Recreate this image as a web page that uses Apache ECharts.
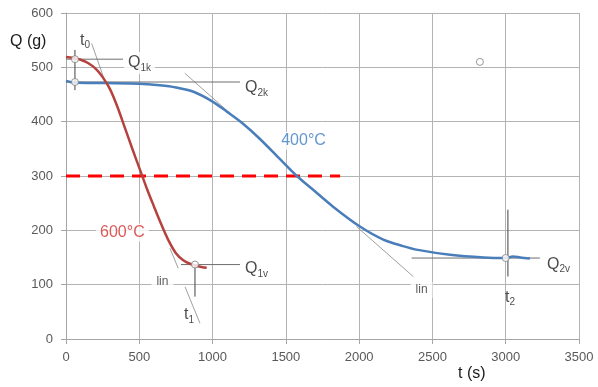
<!DOCTYPE html>
<html>
<head>
<meta charset="utf-8">
<script src="https://cdn.jsdelivr.net/npm/echarts@6/dist/echarts.min.js"></script>
<style>
  html, body { margin: 0; padding: 0; background: #fff; }
  #main { width: 598px; height: 387px; }
</style>
</head>
<body>
<div id="main"></div>
<script>
// 轴刻度
var xTicks = [0, 500, 1000, 1500, 2000, 2500, 3000, 3500];
var yTicks = [0, 100, 200, 300, 400, 500, 600];

// 600°C 曲线 (t, Q)
var curve600 = [
  [0, 519], [50, 517], [100, 514], [150, 508], [200, 498], [250, 482],
  [300, 460], [350, 428], [400, 390], [450, 352], [500, 315], [550, 278],
  [600, 244], [650, 211], [700, 181], [750, 158], [800, 145], [850, 138],
  [900, 134], [960, 131]
];
// 400°C 曲线
var curve400 = [
  [0, 475], [50, 472], [250, 471], [500, 470], [640, 467], [750, 463],
  [870, 455], [1000, 437], [1100, 418], [1200, 398], [1320, 369], [1460, 331],
  [1575, 300], [1680, 276], [1820, 244], [2000, 208], [2165, 183], [2300, 171],
  [2400, 164], [2620, 155], [2850, 150], [3000, 149], [3050, 152], [3100, 150],
  [3165, 148]
];
// 300 g 红色虚线
var limitLine = [[0, 300], [1870, 300]];

// 切线 (lin)
var tangents = [
  [[175, 544], [266, 474]],
  [[709, 167], [766, 130]],
  [[812, 96], [914, 29]],
  [[811, 489], [1096, 421]],
  [[1982, 207], [2369, 115]]
];
// 水平引线
var hLines = [
  [[0, 515], [389, 515]],
  [[0, 473], [1187, 473]],
  [[784, 137], [1187, 137]],
  [[2358, 149], [3233, 149]]
];
// 竖直标记线
var vLines = [
  [[61, 532], [61, 458]],
  [[880, 137], [880, 78]],
  [[3015, 238], [3015, 115]]
];
// 圆点
var markers = [[61, 515], [61, 473], [880, 137], [3000, 149], [2824, 510]];

// 文字标注
var qLabels = [[396, 508, 'Q', '1k'], [1194, 462, 'Q', '2k'], [1194, 129, 'Q', '1v'], [3254, 137, 'Q', '2v']];
var tLabels = [[130, 549, 't', '0'], [840, 44, 't', '1'], [3029, 77, 't', '2']];
var linLabels = [[658, 105, 'lin'], [2426, 90, 'lin']];
var blueLabel = [[1441, 365, '400°C']];
var redLabel = [[205, 196, '600°C']];

var FONT = 'Liberation Sans';
var chart = echarts.init(document.getElementById('main'));

function segSeries(segs, color, width, z) {
  return segs.map(function (s) {
    return {
      type: 'line', data: s, symbol: 'none', silent: true, z: z,
      lineStyle: { color: color, width: width }
    };
  });
}

function subFmt(p) {
  return '{m|' + p.data[2] + '}{s|' + p.data[3] + '}';
}

var richSub = {
  m: { fontSize: 16, lineHeight: 20, color: '#1a1a1a', fontFamily: FONT },
  s: { fontSize: 10, lineHeight: 10, verticalAlign: 'bottom', color: '#1a1a1a', fontFamily: FONT }
};

function labelSeries(data, align, extra) {
  return {
    type: 'scatter', data: data, symbolSize: 0, z: 7, silent: true,
    label: Object.assign({
      show: true, position: [0, 0], align: align, verticalAlign: 'middle',
      backgroundColor: '#fff', padding: [1, 4]
    }, extra)
  };
}

function plainFmt(p) { return p.data[2]; }

var series = [];
series = series.concat(segSeries(tangents, '#777', 0.7, 3));
series = series.concat(segSeries(hLines, '#6e6e6e', 1, 3));
series = series.concat(segSeries(vLines, '#404040', 1, 3));

series.push({
  type: 'line', data: limitLine, symbol: 'none', z: 4,
  lineStyle: { color: '#ff0000', width: 3, type: [14, 8] }
});
series.push({
  name: '400°C', type: 'line', data: curve400, symbol: 'none', smooth: 0.3, z: 5,
  lineStyle: { color: '#4a7ebb', width: 2.5 }
});
series.push({
  name: '600°C', type: 'line', data: curve600, symbol: 'none', smooth: 0.3, z: 5,
  lineStyle: { color: '#b5423f', width: 2.5 }
});
series.push({
  type: 'scatter', data: markers, symbol: 'circle', symbolSize: 7, z: 6,
  itemStyle: { color: '#fff', borderColor: '#808080', borderWidth: 1 }
});

series.push(labelSeries(qLabels, 'left', { formatter: subFmt, rich: richSub }));
series.push(labelSeries(tLabels, 'center', { formatter: subFmt, rich: richSub, backgroundColor: 'transparent' }));
series.push(labelSeries(linLabels, 'center', {
  formatter: plainFmt, fontSize: 12, color: '#333', fontFamily: FONT, padding: [2, 5]
}));
series.push(labelSeries(blueLabel, 'left', {
  formatter: plainFmt, fontSize: 16, fontFamily: FONT, color: '#3a7cc4'
}));
series.push(labelSeries(redLabel, 'left', {
  formatter: plainFmt, fontSize: 16, fontFamily: FONT, color: '#d3302e'
}));

var option = {
  animation: false,
  backgroundColor: '#fff',
  grid: { left: 66, right: 19, top: 13, bottom: 48 },
  xAxis: {
    type: 'value', min: xTicks[0], max: xTicks[xTicks.length - 1], interval: 500,
    axisLine: { show: true, lineStyle: { color: '#a6a6a6' } },
    axisTick: { show: true, length: 5, lineStyle: { color: '#a6a6a6' } },
    splitLine: { show: true, lineStyle: { color: '#b3b3b3' } },
    axisLabel: {
      margin: 12, fontSize: 13, color: '#595959', fontFamily: FONT,
      formatter: function (v) { return String(v); }
    }
  },
  yAxis: {
    type: 'value', min: yTicks[0], max: yTicks[yTicks.length - 1], interval: 100,
    axisLine: { show: true, lineStyle: { color: '#a6a6a6' } },
    axisTick: { show: true, length: 5, lineStyle: { color: '#a6a6a6' } },
    splitLine: { show: true, lineStyle: { color: '#b3b3b3' } },
    axisLabel: { margin: 13, fontSize: 13, color: '#595959', fontFamily: FONT }
  },
  graphic: [
    { type: 'text', left: 10, top: 34, style: { text: 'Q (g)', fontSize: 16, fill: '#1a1a1a', fontFamily: FONT } },
    { type: 'text', left: 458, top: 366, style: { text: 't (s)', fontSize: 16, fill: '#1a1a1a', fontFamily: FONT } }
  ],
  series: series
};

chart.setOption(option);
</script>
</body>
</html>
